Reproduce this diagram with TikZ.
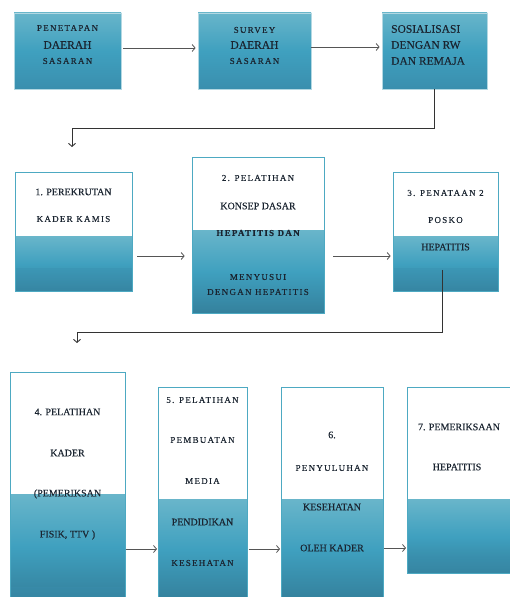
\documentclass[tikz,border=0pt]{standalone}
\usepackage{fontspec}
\setmainfont{Liberation Serif}
\newfontfamily\spc[LetterSpace=14,FakeBold=0.15]{Liberation Serif}
\newfontfamily\nrm[FakeBold=0.15]{Liberation Serif}
\usetikzlibrary{arrows.meta}
\definecolor{txt}{HTML}{1A2430}
\definecolor{edgeA}{HTML}{B3D8E2}
\definecolor{edgeB}{HTML}{4DA9C2}
\definecolor{bTop}{HTML}{68B5CA}
\definecolor{bMid}{HTML}{3FA0BF}
\definecolor{bBot}{HTML}{3A8FAE}
\definecolor{arr}{HTML}{555555}
\tikzset{
  topbox/.style={draw=edgeA, line width=0.8pt, top color=bTop, bottom color=bBot, middle color=bMid, inner sep=0pt},
  whitebox/.style={draw=edgeB, line width=0.7pt, inner sep=0pt},
  lowfill/.style={top color=bTop, bottom color=bBot!90!black, middle color=bMid},
  band/.style={fill=bBot, opacity=0.35},
  nt/.style={text=txt, font=\nrm\fontsize{10}{12}\selectfont, inner sep=0pt},
  bt/.style={text=txt, font=\nrm\fontsize{11.5}{13}\selectfont, inner sep=0pt},
  st/.style={text=txt, font=\spc\fontsize{9}{10}\selectfont, inner sep=0pt},
  flow/.style={draw=arr, line width=0.8pt, -{Straight Barb[length=3pt,width=7pt]}},
  elbow/.style={draw=black!80, line width=0.9pt, -{Straight Barb[length=3pt,width=7pt]}},
}
\begin{document}
\begin{tikzpicture}[x=1pt,y=1pt]
\useasboundingbox (0,0) rectangle (509,597);
% ---------- Row 1 ----------
\node[topbox, minimum width=107pt, minimum height=76pt] (A) at (67.5,546) {};
\node[topbox, minimum width=113pt, minimum height=76pt] (B) at (254.5,546) {};
\node[topbox, minimum width=105pt, minimum height=76pt] (C) at (434.5,546) {};
\node[st] (a1) at (67.5,569) {PENETAPAN};
\node[bt] (a2) at (67.5,552) {DAERAH};
\node[st] (a3) at (67.5,536) {SASARAN};
\node[st] (b1) at (254.5,567) {SURVEY};
\node[bt] (b2) at (254.5,552) {DAERAH};
\node[st] (b3) at (254.5,536) {SASARAN};
\node[bt, anchor=west] (c1) at (391,568) {SOSIALISASI};
\node[bt, anchor=west] (c2) at (391,552) {DENGAN RW};
\node[bt, anchor=west] (c3) at (391,536) {DAN REMAJA};
\draw[flow, shorten <=2pt, shorten >=2pt] ([yshift=3pt]A.east) -- ([yshift=3pt]B.west);
\draw[flow, shorten >=2pt] ([yshift=4pt]B.east) -- ([yshift=4pt]C.west);
\coordinate (e1) at (72,450);
\draw[elbow] (C.south) |- (72,469) -- (e1);
% ---------- Row 2 ----------
\shade[lowfill] (15,306) rectangle (132,360);
\fill[band] (15,306) rectangle (132,329);
\node[whitebox, minimum width=117pt, minimum height=119pt] (P1) at (73.5,365.5) {};
\shade[lowfill] (192,284) rectangle (324,366);
\node[whitebox, minimum width=132pt, minimum height=156pt] (P2) at (258,362) {};
\shade[lowfill] (393,306) rectangle (498,360);
\fill[band] (393,306) rectangle (498,329);
\node[whitebox, minimum width=105pt, minimum height=119pt] (P3) at (445.5,365.5) {};
\node[nt] (p11) at (73.5,405) {1. PEREKRUTAN};
\node[st] (p12) at (73.5,378) {KADER KAMIS};
\node[st] (p21) at (258,419) {2. PELATIHAN};
\node[nt] (p22) at (258,391) {KONSEP DASAR};
\node[st] (p23) at (258,364) {\bfseries HEPATITIS DAN};
\node[st] (p24) at (258,320) {MENYUSUI};
\node[st] (p25) at (258,305) {DENGAN HEPATITIS};
\node[st] (p31) at (445.5,404) {3. PENATAAN 2};
\node[st] (p32) at (445.5,377) {POSKO};
\node[nt] (p33) at (445.5,350) {HEPATITIS};
\draw[flow, shorten <=5pt, shorten >=7pt] ([yshift=-24.5pt]P1.east) -- (P2.west |- 0,341);
\draw[flow, shorten <=9pt, shorten >=2pt] (P2.east |- 0,341) -- ([yshift=-24.5pt]P3.west);
\coordinate (s2) at (442,327);
\coordinate (e2) at (77,254);
\draw[elbow] (s2) |- (77,265) -- (e2);
% ---------- Row 3 ----------
\shade[lowfill] (10,-2) rectangle (125,102);
\fill[band] (10,-2) rectangle (125,10);
\node[whitebox, minimum width=115pt, minimum height=229pt, anchor=north west] (Q4) at (10,225) {};
\shade[lowfill] (158,-2) rectangle (247,97);
\node[whitebox, minimum width=89pt, minimum height=214pt, anchor=north west] (Q5) at (158,210) {};
\shade[lowfill] (281,-2) rectangle (383,97);
\node[whitebox, minimum width=102pt, minimum height=214pt, anchor=north west] (Q6) at (281,210) {};
\shade[lowfill] (407,24) rectangle (511,97);
\fill[band] (407,24) rectangle (511,40);
\node[whitebox, minimum width=104pt, minimum height=186pt, anchor=north west] (Q7) at (407,210) {};
\node[nt] (q41) at (67.5,185) {4. PELATIHAN};
\node[nt] (q42) at (67.5,144) {KADER};
\node[nt] (q43) at (67.5,103) {(PEMERIKSAN};
\node[nt] (q44) at (67.5,62) {FISIK, TTV )};
\node[st] (q51) at (202.5,197) {5. PELATIHAN};
\node[st] (q52) at (202.5,157) {PEMBUATAN};
\node[st] (q53) at (202.5,116) {MEDIA};
\node[nt] (q54) at (202.5,75) {PENDIDIKAN};
\node[st] (q55) at (202.5,34) {KESEHATAN};
\node[nt] (q61) at (332,162) {6.};
\node[st] (q62) at (332,129) {PENYULUHAN};
\node[nt] (q63) at (332,90) {KESEHATAN};
\node[nt] (q64) at (332,49) {OLEH KADER};
\node[nt] (q71) at (459,170) {7. PEMERIKSAAN};
\node[nt] (q72) at (457,130) {HEPATITIS};
\draw[flow, shorten >=1pt] (Q4.east |- 0,48) -- (Q5.west |- 0,48);
\draw[flow, shorten <=1pt, shorten >=1pt] (Q5.east |- 0,48) -- (Q6.west |- 0,48);
\draw[flow, shorten >=1pt] (Q6.east |- 0,49) -- (Q7.west |- 0,49);
\end{tikzpicture}
\end{document}
